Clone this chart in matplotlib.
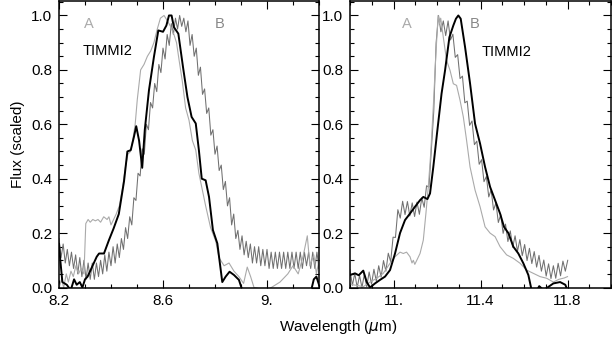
import matplotlib
matplotlib.use("Agg")
import matplotlib.pyplot as plt
from matplotlib.ticker import MultipleLocator, FixedLocator, FixedFormatter

plt.rcParams["font.family"] = ["Liberation Sans", "DejaVu Sans"]

# ---- left panel (8.6 micron feature) ----
# TIMMI2 spectrum
timmi_left_wl = [8.200, 8.205, 8.213, 8.230, 8.245, 8.258, 8.268, 8.280, 8.290, 8.300,
                 8.310, 8.345, 8.354, 8.373, 8.392, 8.410, 8.430, 8.450, 8.463, 8.476,
                 8.488, 8.497, 8.508, 8.520, 8.530, 8.546, 8.565, 8.582, 8.600, 8.613,
                 8.623, 8.633, 8.642, 8.659, 8.677, 8.694, 8.710, 8.726, 8.738, 8.749,
                 8.764, 8.777, 8.792, 8.809, 8.828, 8.841, 8.856, 8.873, 8.892, 8.905,
                 9.000, 9.170, 9.180, 9.190, 9.200]
timmi_left_flux = [0.16, 0.10, 0.02, 0.01, -0.01, 0.03, 0.01, 0.02, 0.00, 0.03,
                   0.04, 0.113, 0.125, 0.125, 0.174, 0.217, 0.27, 0.39, 0.50, 0.505,
                   0.553, 0.593, 0.54, 0.44, 0.58, 0.725, 0.847, 0.945, 0.94, 0.963,
                   1.0, 1.0, 0.957, 0.933, 0.81, 0.70, 0.627, 0.603, 0.505, 0.40,
                   0.394, 0.333, 0.211, 0.162, 0.02, 0.04, 0.058, 0.046, 0.028, -0.01,
                   -0.02, -0.01, 0.03, 0.04, 0.01]

# position A
a_left_wl = [8.200, 8.210, 8.218, 8.228, 8.236, 8.246, 8.255, 8.265, 8.275, 8.285,
             8.296, 8.303, 8.312, 8.320, 8.330, 8.340, 8.350, 8.360, 8.372, 8.385,
             8.392, 8.400, 8.410, 8.420, 8.432, 8.445, 8.455, 8.465, 8.475, 8.485,
             8.493, 8.501, 8.514, 8.527, 8.540, 8.553, 8.565, 8.578, 8.590, 8.604,
             8.617, 8.629, 8.642, 8.652, 8.662, 8.674, 8.687, 8.700, 8.713, 8.726,
             8.738, 8.751, 8.764, 8.783, 8.803, 8.815, 8.835, 8.854, 8.873, 8.892,
             8.910, 8.924, 8.937, 8.950, 9.000, 9.050, 9.080, 9.100, 9.120, 9.140,
             9.155, 9.165, 9.180, 9.190, 9.200]
a_left_flux = [0.00, 0.03, 0.00, 0.05, 0.02, 0.06, 0.04, 0.08, 0.05, 0.07,
               0.05, 0.235, 0.25, 0.24, 0.25, 0.245, 0.25, 0.24, 0.26, 0.25,
               0.26, 0.23, 0.25, 0.27, 0.30, 0.37, 0.44, 0.49, 0.50, 0.55,
               0.60, 0.69, 0.80, 0.82, 0.85, 0.87, 0.90, 0.95, 0.99, 1.00,
               0.98, 0.96, 0.93, 0.90, 0.835, 0.76, 0.66, 0.615, 0.54, 0.505,
               0.42, 0.36, 0.30, 0.22, 0.17, 0.11, 0.08, 0.09, 0.06, 0.04,
               0.015, 0.075, 0.04, 0.00, -0.01, 0.02, 0.05, 0.08, 0.05, 0.12,
               0.19, 0.08, 0.12, 0.05, 0.10]

# position B (regular grid, start + step)
b_left_start, b_left_step = 8.200, 0.008
b_left_flux = [0.18, 0.11, 0.16, 0.09, 0.14, 0.08, 0.13, 0.07, 0.12, 0.05,
               0.11, 0.04, 0.10, 0.03, 0.09, 0.03, 0.09, 0.03, 0.09, 0.04,
               0.10, 0.05, 0.12, 0.06, 0.13, 0.08, 0.15, 0.09, 0.16, 0.11,
               0.18, 0.14, 0.22, 0.18, 0.26, 0.23, 0.33, 0.32, 0.42, 0.41,
               0.51, 0.49, 0.60, 0.58, 0.68, 0.66, 0.75, 0.72, 0.82, 0.79,
               0.88, 0.84, 0.93, 0.89, 0.97, 0.93, 0.99, 0.95, 1.00, 0.96,
               0.99, 0.94, 0.98, 0.89, 0.93, 0.85, 0.88, 0.78, 0.81, 0.71,
               0.73, 0.64, 0.66, 0.56, 0.58, 0.49, 0.52, 0.43, 0.45, 0.36,
               0.39, 0.30, 0.33, 0.23, 0.27, 0.18, 0.21, 0.14, 0.19, 0.12,
               0.17, 0.11, 0.16, 0.09, 0.15, 0.09, 0.15, 0.08, 0.14, 0.08,
               0.14, 0.07, 0.13, 0.07, 0.13, 0.07, 0.13, 0.07, 0.13, 0.07,
               0.13, 0.07, 0.13, 0.07, 0.13, 0.07, 0.13, 0.07, 0.13, 0.08,
               0.13, 0.07, 0.13, 0.07, 0.13, 0.07]

# ---- right panel (11.3 micron feature) ----
timmi_right_wl = [10.800, 10.823, 10.840, 10.861, 10.877, 10.892, 10.915, 10.938, 10.961, 10.984,
                  11.007, 11.030, 11.053, 11.076, 11.099, 11.122, 11.137, 11.156, 11.168, 11.183,
                  11.200, 11.221, 11.237, 11.257, 11.275, 11.287, 11.298, 11.309, 11.329, 11.352,
                  11.375, 11.398, 11.421, 11.444, 11.467, 11.490, 11.508, 11.528, 11.551, 11.574,
                  11.597, 11.620, 11.635, 11.660, 11.670, 11.690, 11.735, 11.766, 11.790, 11.800]
timmi_right_flux = [0.046, 0.052, 0.045, 0.062, 0.02, 0.0, 0.015, 0.028, 0.04, 0.064,
                    0.125, 0.20, 0.248, 0.272, 0.297, 0.321, 0.333, 0.325, 0.346, 0.443,
                    0.566, 0.713, 0.798, 0.92, 0.963, 0.988, 1.0, 0.988, 0.884, 0.75,
                    0.602, 0.529, 0.443, 0.37, 0.321, 0.272, 0.223, 0.20, 0.15, 0.125,
                    0.089, 0.046, -0.01, -0.01, 0.005, -0.01, 0.015, 0.02, 0.01, -0.01]

a_right_wl = [10.800, 10.812, 10.830, 10.861, 10.892, 10.923, 10.953, 10.984, 11.007, 11.030,
              11.045, 11.060, 11.076, 11.085, 11.091, 11.098, 11.107, 11.122, 11.137, 11.149,
              11.160, 11.171, 11.183, 11.195, 11.205, 11.212, 11.217, 11.229, 11.244, 11.260,
              11.275, 11.290, 11.306, 11.321, 11.336, 11.352, 11.375, 11.398, 11.421, 11.444,
              11.467, 11.490, 11.520, 11.551, 11.582, 11.612, 11.643, 11.674, 11.704, 11.735,
              11.760, 11.785, 11.800]
a_right_flux = [0.015, 0.01, 0.008, 0.003, 0.02, 0.034, 0.052, 0.089, 0.113, 0.13,
                0.125, 0.13, 0.113, 0.09, 0.10, 0.085, 0.10, 0.125, 0.174, 0.272,
                0.37, 0.492, 0.664, 0.86, 1.0, 0.97, 0.99, 0.92, 0.835, 0.798,
                0.749, 0.743, 0.688, 0.627, 0.541, 0.443, 0.358, 0.297, 0.223, 0.20,
                0.187, 0.15, 0.12, 0.107, 0.089, 0.064, 0.052, 0.04, 0.034, 0.02,
                0.03, 0.035, 0.04]

b_right_start, b_right_step = 10.800, 0.011
b_right_flux = [0.065, 0.008, 0.052, 0.00, 0.044, 0.00, 0.049, 0.003, 0.057, 0.012,
                0.067, 0.023, 0.080, 0.038, 0.099, 0.060, 0.126, 0.095, 0.185, 0.184,
                0.286, 0.255, 0.317, 0.268, 0.316, 0.263, 0.311, 0.261, 0.314, 0.269,
                0.329, 0.295, 0.374, 0.369, 0.507, 0.647, 0.90, 1.00, 0.94, 0.98,
                0.926, 0.98, 0.91, 0.931, 0.846, 0.856, 0.768, 0.777, 0.679, 0.685,
                0.596, 0.612, 0.525, 0.538, 0.453, 0.47, 0.389, 0.408, 0.333, 0.359,
                0.285, 0.311, 0.239, 0.268, 0.199, 0.233, 0.169, 0.208, 0.148, 0.19,
                0.133, 0.176, 0.117, 0.158, 0.099, 0.144, 0.088, 0.132, 0.075, 0.118,
                0.06, 0.101, 0.042, 0.087, 0.033, 0.08, 0.034, 0.089, 0.043, 0.097,
                0.06, 0.10]

x_tick_left = [8.2, 8.6, 9.0]
x_ticklabels_left = ["8.2", "8.6", "9."]
x_tick_right = [11.0, 11.4, 11.8]
x_ticklabels_right = ["11.", "11.4", "11.8"]
y_ticks = [0.0, 0.2, 0.4, 0.6, 0.8, 1.0]
y_ticklabels = ["0.0", "0.2", "0.4", "0.6", "0.8", "1.0"]

COL_T = "black"
COL_A = "#aaaaaa"
COL_B = "#707070"


def grid(start, step, n):
    return [start + step * i for i in range(n)]


def style_axes(ax, xlim, xt, xtl):
    ax.set_xlim(*xlim)
    ax.set_ylim(0, 1.055)
    ax.xaxis.set_major_locator(FixedLocator(xt))
    ax.xaxis.set_major_formatter(FixedFormatter(xtl))
    ax.xaxis.set_minor_locator(MultipleLocator(0.1))
    ax.yaxis.set_major_locator(FixedLocator(y_ticks))
    ax.yaxis.set_major_formatter(FixedFormatter(y_ticklabels))
    ax.yaxis.set_minor_locator(MultipleLocator(0.05))
    ax.tick_params(which="both", direction="in", top=True, right=True,
                   labelsize=11, width=0.8)
    ax.tick_params(which="major", length=6, pad=5)
    ax.tick_params(which="minor", length=3)
    for s in ax.spines.values():
        s.set_linewidth(1.1)


fig = plt.figure(figsize=(6.12, 3.41), dpi=100)
ax1 = fig.add_axes([59 / 612, 53.5 / 341, 260 / 612, 287 / 341])
ax2 = fig.add_axes([350 / 612, 53.5 / 341, 261 / 612, 287 / 341])

bl = grid(b_left_start, b_left_step, len(b_left_flux))
ax1.plot(bl, b_left_flux, color=COL_B, lw=0.75)
ax1.plot(a_left_wl, a_left_flux, color=COL_A, lw=0.8)
ax1.plot(timmi_left_wl, timmi_left_flux, color=COL_T, lw=1.4)
style_axes(ax1, (8.2, 9.2), x_tick_left, x_ticklabels_left)
ax1.text(8.315, 0.97, "A", color=COL_A, fontsize=10.5, ha="center", va="center")
ax1.text(8.819, 0.97, "B", color="#888888", fontsize=10.5, ha="center", va="center")
ax1.text(8.292, 0.868, "TIMMI2", color=COL_T, fontsize=10.5, ha="left", va="center")
ax1.set_ylabel("Flux (scaled)", fontsize=11, labelpad=4)

br = grid(b_right_start, b_right_step, len(b_right_flux))
ax2.plot(br, b_right_flux, color=COL_B, lw=0.75)
ax2.plot(a_right_wl, a_right_flux, color=COL_A, lw=0.8)
ax2.plot(timmi_right_wl, timmi_right_flux, color=COL_T, lw=1.4)
style_axes(ax2, (10.8, 12.0), x_tick_right, x_ticklabels_right)
ax2.text(11.062, 0.97, "A", color=COL_A, fontsize=10.5, ha="center", va="center")
ax2.text(11.375, 0.97, "B", color="#888888", fontsize=10.5, ha="center", va="center")
ax2.text(11.407, 0.864, "TIMMI2", color=COL_T, fontsize=10.5, ha="left", va="center")

fig.text(338 / 612, 1 - 327 / 341, r"Wavelength ($\mu$m)", fontsize=11,
         ha="center", va="center")

fig.savefig("out.png", dpi=100)
